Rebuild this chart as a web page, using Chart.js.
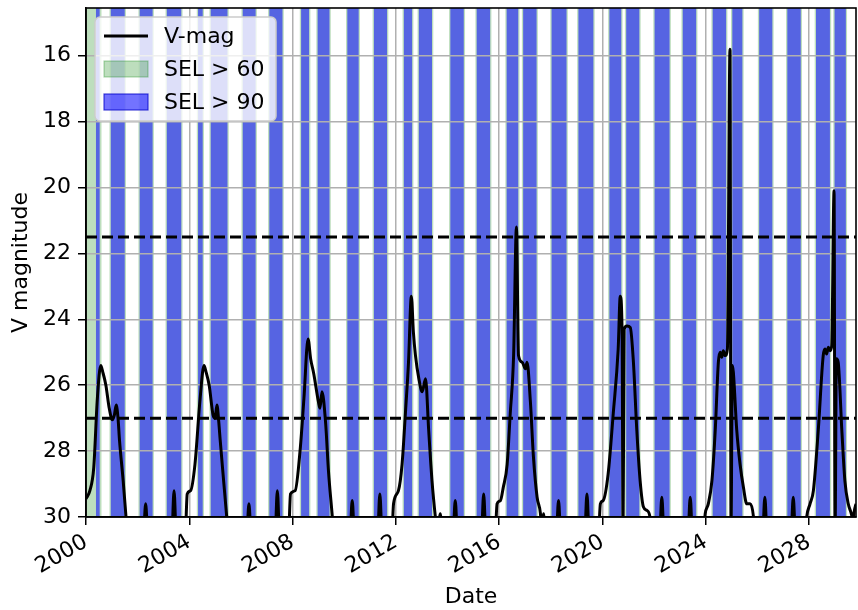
<!DOCTYPE html>
<html>
<head>
<meta charset="utf-8">
<script src="https://cdn.jsdelivr.net/npm/chart.js@4.4.1/dist/chart.umd.min.js"></script>
<style>
  html, body { margin: 0; padding: 0; background: #fff; }
</style>
</head>
<body>
<canvas id="magChart" width="858" height="610"></canvas>
<script>
// V magnitude curve, dates in decimal years
const vmagDate = [
    2000.00, 2000.15, 2000.30, 2000.44, 2000.57, 2000.65, 2000.77, 2000.90, 2001.02, 2001.10, 2001.17, 2001.24, 2001.30, 2001.44, 2001.55, 2001.62,
    2002.22, 2002.31, 2002.40, 2003.32, 2003.41, 2003.50,
    2003.84, 2003.92, 2004.05, 2004.22, 2004.42, 2004.57, 2004.65, 2004.77, 2004.92, 2005.00, 2005.07, 2005.14, 2005.20, 2005.33, 2005.45, 2005.52,
    2006.22, 2006.31, 2006.40, 2007.32, 2007.41, 2007.50,
    2007.84, 2007.92, 2008.10, 2008.30, 2008.44, 2008.60, 2008.70, 2008.82, 2009.00, 2009.06, 2009.14, 2009.28, 2009.39, 2009.54, 2009.60,
    2010.22, 2010.31, 2010.40, 2011.29, 2011.38, 2011.47,
    2011.84, 2011.91, 2012.10, 2012.24, 2012.37, 2012.49, 2012.60, 2012.68, 2012.76, 2012.89, 2013.02, 2013.15, 2013.27, 2013.40, 2013.53, 2013.62, 2013.72, 2013.80,
    2014.21, 2014.30, 2014.39, 2015.31, 2015.40, 2015.49,
    2015.84, 2015.92, 2016.05, 2016.16, 2016.31, 2016.43, 2016.56, 2016.67, 2016.75, 2016.89, 2017.02, 2017.08, 2017.21, 2017.33, 2017.47, 2017.60, 2017.66, 2017.72, 2017.78,
    2018.21, 2018.30, 2018.39, 2019.31, 2019.40, 2019.49,
    2019.84, 2019.92, 2020.03, 2020.22, 2020.42, 2020.61, 2020.69, 2020.76, 2020.80, 2020.84, 2020.95, 2021.08, 2021.20, 2021.33, 2021.46, 2021.59, 2021.72, 2021.84, 2021.90,
    2022.21, 2022.30, 2022.39, 2023.31, 2023.40, 2023.49,
    2023.90, 2023.98, 2024.10, 2024.24, 2024.37, 2024.49, 2024.56, 2024.62, 2024.68, 2024.75, 2024.84, 2024.94, 2024.98, 2025.03, 2025.07, 2025.20, 2025.33, 2025.46, 2025.59, 2025.72, 2025.85, 2025.90,
    2026.20, 2026.29, 2026.38, 2027.30, 2027.39, 2027.48,
    2027.85, 2027.91, 2028.04, 2028.17, 2028.36, 2028.55, 2028.62, 2028.68, 2028.75, 2028.82, 2028.88, 2028.97, 2029.01, 2029.06, 2029.13, 2029.27, 2029.39, 2029.52, 2029.62, 2029.70, 2029.77, 2029.82
];
const vmag = [
    29.45, 29.2, 28.5, 26.4, 25.4, 25.6, 26.0, 26.7, 27.05, 26.9, 26.6, 27.0, 27.7, 28.9, 30.0, 30.6,
    30.6, 29.6, 30.6, 30.6, 29.2, 30.6,
    30.6, 29.3, 29.2, 28.4, 26.4, 25.4, 25.6, 26.0, 26.9, 27.0, 26.6, 27.1, 27.7, 28.9, 30.0, 30.6,
    30.6, 29.6, 30.6, 30.6, 29.2, 30.6,
    30.6, 29.3, 29.2, 27.9, 26.4, 24.6, 25.2, 25.65, 26.5, 26.7, 26.2, 27.15, 28.6, 30.0, 30.6,
    30.6, 29.5, 30.6, 30.6, 29.3, 30.6,
    30.6, 29.6, 29.2, 28.4, 26.85, 25.3, 23.3, 24.4, 25.1, 25.8, 26.2, 25.8, 27.35, 28.9, 30.0, 30.6, 29.9, 30.6,
    30.6, 29.5, 30.6, 30.6, 29.3, 30.6,
    30.6, 29.6, 29.5, 29.1, 28.4, 26.85, 25.1, 21.2, 25.1, 25.3, 25.5, 25.3, 26.5, 28.2, 29.4, 29.9, 30.6, 29.9, 30.6,
    30.6, 29.5, 30.6, 30.6, 29.3, 30.6,
    30.6, 29.6, 29.5, 28.7, 26.85, 24.9, 23.3, 24.3, 30.5, 24.3, 24.2, 24.25, 25.3, 27.35, 28.9, 29.7, 29.8, 30.0, 30.6,
    30.6, 29.4, 30.6, 30.6, 29.4, 30.6,
    30.6, 29.9, 29.6, 28.9, 27.35, 25.3, 25.0, 25.15, 24.95, 25.1, 24.9, 15.8, 30.4, 25.4, 25.6, 27.35, 28.4, 29.1, 29.6, 29.6, 30.0, 30.6,
    30.6, 29.4, 30.6, 30.6, 29.4, 30.6,
    30.6, 30.0, 29.6, 29.2, 27.35, 25.1, 24.9, 25.05, 24.85, 24.95, 24.8, 20.1, 30.4, 25.2, 25.3, 27.35, 28.9, 29.6, 29.85, 30.05, 29.75, 29.6
];

// Solar elongation > 90 deg windows
const sel90Start = [2000.38, 2000.96, 2002.08, 2003.13, 2004.34, 2004.83, 2006.07, 2007.10, 2008.33, 2008.97,
    2010.12, 2011.15, 2012.31, 2012.89, 2014.11, 2015.13, 2016.29, 2016.93, 2018.03, 2019.07,
    2020.27, 2020.92, 2022.02, 2023.11, 2024.27, 2025.03, 2026.07, 2027.16, 2028.27, 2028.99];
const sel90End = [2000.53, 2001.50, 2002.58, 2003.69, 2004.52, 2005.48, 2006.57, 2007.61, 2008.64, 2009.43,
    2010.56, 2011.66, 2012.63, 2013.40, 2014.63, 2015.65, 2016.74, 2017.45, 2018.61, 2019.65,
    2020.73, 2021.43, 2022.60, 2023.63, 2024.79, 2025.42, 2026.58, 2027.68, 2028.81, 2029.43];

// Solar elongation > 60 deg windows
const sel60Start = [2000.00, 2000.91, 2002.03, 2003.08, 2004.29, 2004.78, 2006.02, 2007.05, 2008.28, 2008.92,
    2010.07, 2011.10, 2012.26, 2012.84, 2014.06, 2015.08, 2016.24, 2016.88, 2017.98, 2019.02,
    2020.22, 2020.87, 2021.97, 2023.06, 2024.22, 2024.98, 2026.02, 2027.11, 2028.22, 2028.94];
const sel60End = [2000.60, 2001.55, 2002.63, 2003.74, 2004.57, 2005.53, 2006.62, 2007.66, 2008.69, 2009.48,
    2010.61, 2011.71, 2012.68, 2013.45, 2014.68, 2015.70, 2016.79, 2017.50, 2018.66, 2019.70,
    2020.78, 2021.48, 2022.65, 2023.68, 2024.84, 2025.47, 2026.63, 2027.73, 2028.86, 2029.48];

// Reference magnitude limits (dashed)
const limitMags = [21.5, 27];

const xTicks = [2000, 2004, 2008, 2012, 2016, 2020, 2024, 2028];
const yTicks = [16, 18, 20, 22, 24, 26, 28, 30];
const xMin = 2000, xMax = 2029.82;
const yMin = 14.55, yMax = 30;

// square wave from window start/end pairs, filled down to the axis bottom
function windowWave(starts, ends) {
    return starts.flatMap((s, i) => [
        {x: s, y: yMax}, {x: s, y: yMin}, {x: ends[i], y: yMin}, {x: ends[i], y: yMax}
    ]);
}

const fontFamily = '"DejaVu Sans", "Liberation Sans", sans-serif';
const fontSize = 22;
Chart.defaults.font.family = fontFamily;
Chart.defaults.font.size = fontSize;
Chart.defaults.color = '#000';

const frame = {
    id: 'frame',
    afterDatasetsDraw(chart) {
        const {ctx, chartArea: a} = chart;
        ctx.save();
        ctx.strokeStyle = '#000';
        ctx.lineWidth = 1.6;
        ctx.strokeRect(a.left, a.top, a.right - a.left, a.bottom - a.top);
        ctx.restore();
    }
};

// matplotlib style legend in the upper left of the plot
const boxLegend = {
    id: 'boxLegend',
    afterDraw(chart) {
        const {ctx, chartArea: a} = chart;
        const items = chart.data.datasets.filter(d => d.inLegend);
        const x0 = a.left + 9, y0 = a.top + 9, w = 181, h = 104;
        ctx.save();
        ctx.beginPath();
        ctx.roundRect(x0, y0, w, h, 5);
        ctx.fillStyle = 'rgba(255,255,255,0.8)';
        ctx.fill();
        ctx.strokeStyle = '#cccccc';
        ctx.lineWidth = 1.5;
        ctx.stroke();
        ctx.font = fontSize + 'px ' + fontFamily;
        ctx.textBaseline = 'middle';
        items.forEach((d, i) => {
            const cy = y0 + 19 + i * 33;
            if (d.fill) {
                ctx.fillStyle = d.backgroundColor;
                ctx.fillRect(x0 + 9, cy - 8, 44, 16);
                ctx.strokeStyle = d.legendEdge;
                ctx.lineWidth = 1.2;
                ctx.strokeRect(x0 + 9, cy - 8, 44, 16);
            } else {
                ctx.strokeStyle = d.borderColor;
                ctx.lineWidth = d.borderWidth;
                ctx.beginPath();
                ctx.moveTo(x0 + 9, cy);
                ctx.lineTo(x0 + 53, cy);
                ctx.stroke();
            }
            ctx.fillStyle = '#000';
            ctx.fillText(d.label, x0 + 69, cy + 1);
        });
        ctx.restore();
    }
};

const ctx = document.getElementById('magChart').getContext('2d');
new Chart(ctx, {
    type: 'line',
    data: {
        datasets: [
            {
                label: 'V-mag',
                inLegend: true,
                data: vmagDate.map((d, i) => ({x: d, y: vmag[i]})),
                borderColor: '#000',
                borderWidth: 3,
                pointRadius: 0,
                cubicInterpolationMode: 'monotone',
                fill: false,
                order: 0,
            },
            {
                label: 'SEL > 60',
                inLegend: true,
                data: windowWave(sel60Start, sel60End),
                backgroundColor: 'rgba(0,128,0,0.26)',
                legendEdge: 'rgba(0,128,0,0.3)',
                borderColor: 'rgba(0,0,0,0)',
                borderWidth: 0,
                pointRadius: 0,
                tension: 0,
                fill: {value: yMax},
                order: 3,
            },
            {
                label: 'SEL > 90',
                inLegend: true,
                data: windowWave(sel90Start, sel90End),
                backgroundColor: 'rgba(0,0,255,0.55)',
                legendEdge: 'rgba(0,0,200,0.7)',
                borderColor: 'rgba(0,0,0,0)',
                borderWidth: 0,
                pointRadius: 0,
                tension: 0,
                fill: {value: yMax},
                order: 2,
            },
            ...limitMags.map(m => ({
                label: 'limit ' + m,
                data: [{x: xMin, y: m}, {x: xMax, y: m}],
                borderColor: '#000',
                borderWidth: 3,
                borderDash: [11, 5],
                pointRadius: 0,
                fill: false,
                order: 1,
            })),
        ],
    },
    options: {
        responsive: false,
        animation: false,
        layout: {padding: {top: 8, right: 2, left: 0, bottom: 0}},
        plugins: {
            legend: {display: false},
            tooltip: {enabled: false},
            filler: {drawTime: 'beforeDraw'},
        },
        scales: {
            x: {
                type: 'linear',
                min: xMin,
                max: xMax,
                afterBuildTicks: s => { s.ticks = xTicks.map(v => ({value: v})); },
                afterFit: s => { s.height = 93; s.paddingLeft = 0; s.paddingRight = 0; },
                ticks: {
                    autoSkip: false,
                    maxRotation: 30,
                    minRotation: 30,
                    padding: 4,
                    callback: v => String(v),
                },
                grid: {color: '#b0b0b0', lineWidth: 1.5, tickColor: '#000', tickLength: 8, tickWidth: 1.5},
                border: {color: '#000', width: 1.6},
                title: {display: true, text: 'Date', padding: {top: 0, bottom: 0}},
            },
            y: {
                type: 'linear',
                reverse: true,
                min: yMin,
                max: yMax,
                afterBuildTicks: s => { s.ticks = yTicks.map(v => ({value: v})); },
                afterFit: s => { s.width = 86; s.paddingTop = 0; s.paddingBottom = 0; },
                ticks: {autoSkip: false, padding: 7},
                grid: {color: '#b0b0b0', lineWidth: 1.5, tickColor: '#000', tickLength: 8, tickWidth: 1.5},
                border: {color: '#000', width: 1.6},
                title: {display: true, text: 'V magnitude', padding: {top: 8, bottom: 0}},
            },
        },
    },
    plugins: [frame, boxLegend],
});
</script>
</body>
</html>
